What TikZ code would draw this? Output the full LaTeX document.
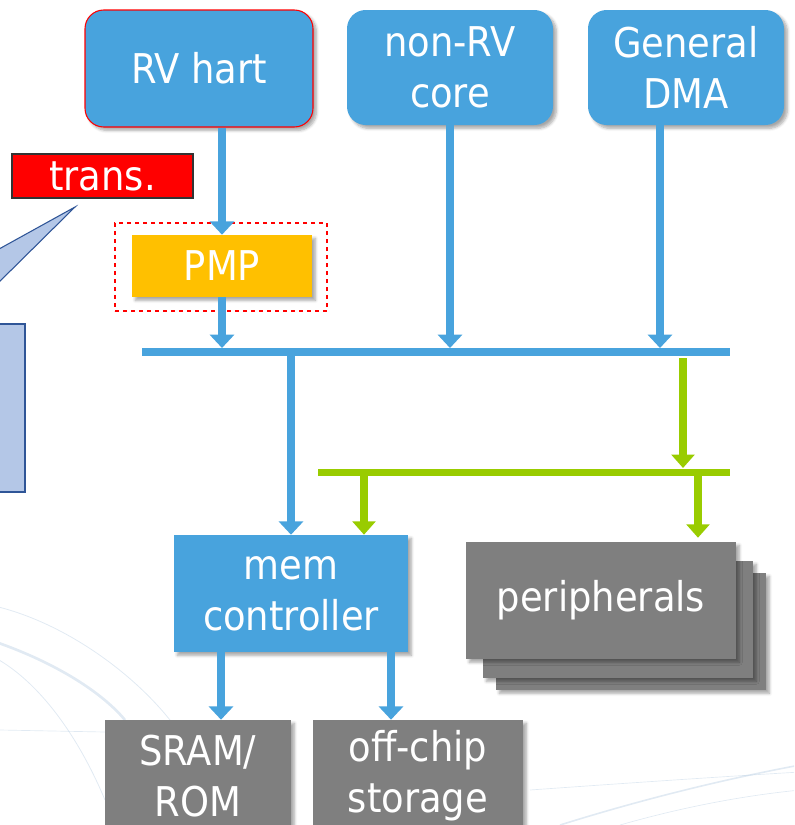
\documentclass[tikz,border=0pt]{standalone}
\usepackage{fontspec}
\setmainfont{DejaVu Sans Condensed}
\usetikzlibrary{arrows.meta,shadows.blur}

\definecolor{cblue}{HTML}{48A3DD}
\definecolor{cgreen}{HTML}{99CC00}
\definecolor{cgray}{HTML}{7F7F7F}
\definecolor{corange}{HTML}{FFC000}
\definecolor{ccall}{HTML}{B4C7E7}
\definecolor{ccallline}{HTML}{2F5597}
\definecolor{cswoosh}{HTML}{9DBBD6}

\tikzset{
  box/.style={fill=#1, text=white, inner sep=0pt, align=center,
    font=\fontsize{30.75pt}{38pt}\selectfont},
  shade box/.style={box=#1, blur shadow={shadow xshift=2.5pt, shadow yshift=-2.5pt,
    shadow blur steps=6, shadow opacity=35}},
  barrow/.style={draw=cblue, line width=6pt,
    -{Triangle[width=18pt,length=10pt]}},
  garrow/.style={draw=cgreen, line width=5.5pt,
    -{Triangle[width=17pt,length=10pt]}},
  tobus/.style={shorten >=3pt},
  swoosh/.style={draw=cswoosh, line width=#1, opacity=0.3},
}

\begin{document}
\begin{tikzpicture}[x=0.75pt,y=-0.75pt]
\useasboundingbox (0,0) rectangle (794,825);
\clip (0,0) rectangle (794,825);

% faint background swooshes
\draw[swoosh=2pt] (-10,640) .. controls (50,660) and (100,690) .. (125,720);
\draw[swoosh=0.6pt] (-10,605) .. controls (60,620) and (130,670) .. (170,720);
\draw[swoosh=0.6pt] (-10,655) .. controls (40,680) and (80,740) .. (105,800);
\draw[swoosh=0.5pt] (0,730) -- (105,732);
\draw[swoosh=1.2pt] (560,825) .. controls (640,800) and (720,780) .. (800,765);
\draw[swoosh=0.5pt] (530,790) .. controls (600,785) and (700,778) .. (800,772);
\draw[swoosh=0.5pt] (620,825) .. controls (690,805) and (750,795) .. (800,790);

% call-out with its pointer
\draw[fill=ccall, draw=ccallline, line width=0.8pt]
  (-20,324) rectangle (25,492);
\draw[fill=ccall, draw=ccallline, line width=0.8pt]
  (75,207) -- (-10,254) -- (-10,291) -- cycle;

% top row of masters
\node[shade box=cblue, draw=red, line width=0.8pt, rounded corners=14pt,
  minimum width=228*0.75pt, minimum height=117*0.75pt] (hart) at (199,68.5) {RV hart};
\node[shade box=cblue, rounded corners=14pt,
  minimum width=206*0.75pt, minimum height=115*0.75pt] (nonrv) at (450,67.5) {non-RV\\core};
\node[shade box=cblue, rounded corners=14pt,
  minimum width=196*0.75pt, minimum height=115*0.75pt] (dma) at (686,67.5) {General\\DMA};

% translation tag
\node[box=red, draw=black!80, line width=0.8pt,
  minimum width=181*0.75pt, minimum height=44*0.75pt] (trans) at (102.5,176) {trans.};

% physical memory protection
\node[draw=red, dashed, line width=0.9pt, minimum width=212*0.75pt,
  minimum height=88*0.75pt] (pmpframe) at (221,267) {};
\node[shade box=corange, minimum width=180*0.75pt,
  minimum height=62*0.75pt] (pmp) at (222,266) {PMP};

% slaves
\node[shade box=cblue, minimum width=234*0.75pt,
  minimum height=117*0.75pt] (mem) at (291,593.5) {mem\\controller};
\node[shade box=cgray, minimum width=270*0.75pt, minimum height=117*0.75pt]
  (per3) at (631,631.5) {};
\node[shade box=cgray, minimum width=270*0.75pt, minimum height=117*0.75pt]
  (per2) at (618,619.5) {};
\node[shade box=cgray, minimum width=270*0.75pt, minimum height=117*0.75pt]
  (per1) at (601,600.5) {peripherals};
\node[shade box=cgray, minimum width=186*0.75pt,
  minimum height=112*0.75pt] (sram) at (198,776) {SRAM/\\ROM};
\node[shade box=cgray, minimum width=210*0.75pt,
  minimum height=112*0.75pt] (offchip) at (418,776) {off-chip\\storage};

% bus end points and tap positions
\coordinate (busL) at (142,352);
\coordinate (busR) at (730,352);
\coordinate (gbusL) at (318,472);
\coordinate (gbusR) at (730,472);
\coordinate (dmatap) at (660,0);
\coordinate (gdrop) at (683,358);
\coordinate (gmem) at (364,0);
\coordinate (gper) at (698,0);
\coordinate (sramtap) at (221,0);
\coordinate (offtap) at (391,0);

% system bus (blue) and peripheral bus (green)
\draw[cblue, line width=8*0.75pt] (busL) -- (busR);
\draw[cgreen, line width=7*0.75pt] (gbusL) -- (gbusR);

% masters onto the system bus
\draw[barrow] (hart.south -| pmp.north) -- (pmp.north);
\draw[barrow, tobus] (pmp.south) -- (pmp.south |- busL);
\draw[barrow, tobus] (nonrv.south) -- (nonrv.south |- busL);
\draw[barrow, tobus] (dma.south -| dmatap) -- (dmatap |- busL);

% system bus down to the memory controller
\draw[barrow] (mem.north |- busL) -- (mem.north);

% bridge to the peripheral bus
\draw[garrow, tobus] (gdrop) -- (gdrop |- gbusL);
\draw[garrow] (gmem |- gbusL) -- (gmem |- mem.north);
\draw[garrow] (gper |- gbusL) -- ([yshift=3pt]gper |- per1.north);

% memory controller to storage
\draw[barrow] (sramtap |- mem.south) -- (sramtap |- sram.north);
\draw[barrow] (offtap |- mem.south) -- (offtap |- offchip.north);
\end{tikzpicture}
\end{document}
